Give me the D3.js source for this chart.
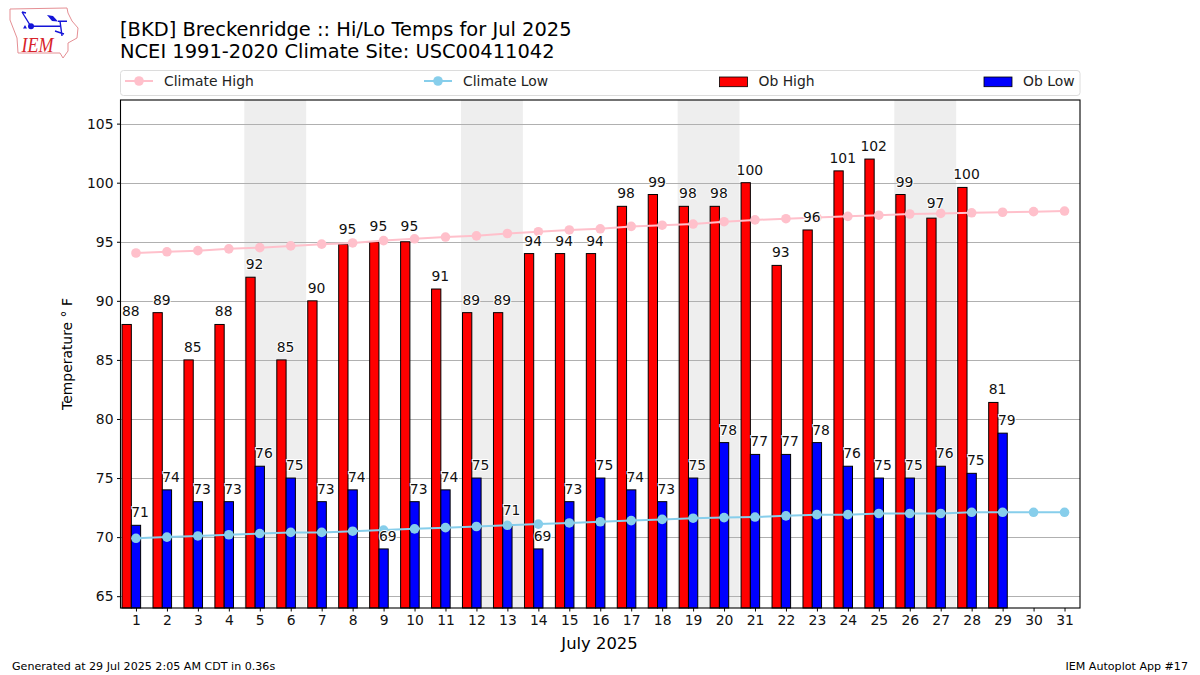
<!DOCTYPE html>
<html>
<head>
<meta charset="utf-8">
<script src="https://cdn.jsdelivr.net/npm/d3@7"></script>
<style>
  html, body { margin: 0; padding: 0; background: #fff; }
  text { font-family: "DejaVu Sans", sans-serif; fill: #000; }
</style>
</head>
<body>
<svg id="chart" width="1200" height="675"></svg>
<script>
var days = d3.range(1, 32);
var obHigh = [88, 89, 85, 88, 92, 85, 90, 94.8, 95, 95, 91, 89, 89, 94, 94, 94, 98, 99, 98, 98, 100, 93, 96, 101, 102, 99, 97, 99.6, 81.4];
var obLow = [71, 74, 73, 73, 76, 75, 73, 74, 69, 73, 74, 75, 71, 69, 73, 75, 74, 73, 75, 78, 77, 77, 78, 76, 75, 75, 76, 75.4, 78.8];
var climateHigh = [94.05, 94.15, 94.25, 94.4, 94.5, 94.65, 94.8, 94.9, 95.1, 95.25, 95.4, 95.5, 95.7, 95.85, 96.0, 96.1, 96.3, 96.4, 96.5, 96.7, 96.85, 96.95, 97.05, 97.15, 97.25, 97.35, 97.4, 97.45, 97.5, 97.55, 97.6];
var climateLow = [69.9, 70.0, 70.1, 70.2, 70.3, 70.4, 70.4, 70.5, 70.6, 70.7, 70.8, 70.9, 71.0, 71.1, 71.2, 71.3, 71.4, 71.5, 71.6, 71.65, 71.7, 71.8, 71.9, 71.9, 72.0, 72.0, 72.0, 72.1, 72.1, 72.1, 72.1];
var weekends = [5, 12, 19, 26];
var yTicks = [65, 70, 75, 80, 85, 90, 95, 100, 105];

var svg = d3.select("#chart");
var plot = { left: 120.5, right: 1080, top: 100, bottom: 608 };
var x = d3.scaleLinear().domain([0.5, 31.5]).range([plot.left, plot.right]);
var y = d3.scaleLinear().domain([64, 107]).range([plot.bottom, plot.top]);
var barW = x(0.3) - x(0);

// logo, rough Iowa outline with the station plot glyph
var logo = svg.append("g");
logo.append("path")
  .attr("d", "M10,9 L67,8 L68,13 L72,21 L78,28 L77,38 L68,43 L68,51 L63,58 L60,53 L18,53 L17,38 L10,20 Z")
  .attr("fill", "none").attr("stroke", "#e58f94").attr("stroke-width", 1);
logo.append("path")
  .attr("d", "M31,26.3 H60 M22,12 L30,25 M22,12 L26,13 M58,21.3 H67 M60,21 L62,36 M55,31 L64,34")
  .attr("fill", "none").attr("stroke", "#1414d8").attr("stroke-width", 1.4);
logo.append("path").attr("d", "M47,15 L53,16 L58,21.5 L52,21 Z").attr("fill", "#1414d8");
logo.append("circle").attr("cx", 31).attr("cy", 26.3).attr("r", 3).attr("fill", "#1414d8");
logo.append("path").attr("d", "M25,25 L27,28.5 H23 Z").attr("fill", "#1414d8");
logo.append("text").attr("x", 21.5).attr("y", 51.5)
  .attr("textLength", 32).attr("lengthAdjust", "spacingAndGlyphs")
  .style("font-family", "'Liberation Serif', serif").style("font-style", "italic")
  .style("font-size", "20.5px").style("fill", "#d8232a").text("IEM");

// titles
svg.append("text").attr("x", 120).attr("y", 36).style("font-size", "19.44px")
  .text("[BKD] Breckenridge :: Hi/Lo Temps for Jul 2025");
svg.append("text").attr("x", 120).attr("y", 58).style("font-size", "19.44px")
  .text("NCEI 1991-2020 Climate Site: USC00411042");

// legend
var legend = svg.append("g");
legend.append("rect").attr("x", 120.5).attr("y", 70.5).attr("width", 959.5).attr("height", 25)
  .attr("rx", 3).attr("fill", "#fff").attr("stroke", "#dcdcdc");

function lineKey(x0, color, label) {
  legend.append("line").attr("x1", x0).attr("x2", x0 + 28).attr("y1", 81).attr("y2", 81)
    .attr("stroke", color).attr("stroke-width", 2);
  legend.append("circle").attr("cx", x0 + 14).attr("cy", 81).attr("r", 4.8).attr("fill", color);
  legend.append("text").attr("x", x0 + 39).attr("y", 86).style("font-size", "13.9px").style("fill", "#222").text(label);
}
function barKey(x0, color, label) {
  legend.append("rect").attr("x", x0).attr("y", 77).attr("width", 28).attr("height", 9.7)
    .attr("fill", color).attr("stroke", "#000").attr("stroke-width", 0.8);
  legend.append("text").attr("x", x0 + 39).attr("y", 86).style("font-size", "13.9px").style("fill", "#222").text(label);
}
lineKey(125, "#ffc0cb", "Climate High");
lineKey(424, "#87ceeb", "Climate Low");
barKey(719.5, "#ff0000", "Ob High");
barKey(984, "#0000ff", "Ob Low");

// weekend shading
svg.append("g").selectAll("rect").data(weekends).join("rect")
  .attr("x", d => x(d - 0.5))
  .attr("y", plot.top)
  .attr("width", d => x(d + 1.5) - x(d - 0.5))
  .attr("height", plot.bottom - plot.top)
  .attr("fill", "#eeeeee");

// grid, snapped to the pixel so it stays light and even
svg.append("g").selectAll("line").data(yTicks).join("line")
  .attr("x1", plot.left).attr("x2", plot.right)
  .attr("y1", d => Math.round(y(d)) + 0.5).attr("y2", d => Math.round(y(d)) + 0.5)
  .attr("stroke", "#b0b0b0").attr("stroke-width", 1.1);

// bars
function drawBars(values, offset, color) {
  svg.append("g").selectAll("rect").data(values).join("rect")
    .attr("x", (d, i) => x(days[i] + offset - 0.15))
    .attr("y", d => y(d))
    .attr("width", barW)
    .attr("height", d => plot.bottom - y(d))
    .attr("fill", color)
    .attr("stroke", "#000")
    .attr("stroke-width", 1);
}
drawBars(obHigh, -0.3, "#ff0000");
drawBars(obLow, 0, "#0000ff");

// climate lines
function drawClimate(values, color) {
  var line = d3.line().x((d, i) => x(days[i])).y(d => y(d));
  svg.append("path").attr("d", line(values)).attr("fill", "none")
    .attr("stroke", color).attr("stroke-width", 2);
  svg.append("g").selectAll("circle").data(values).join("circle")
    .attr("cx", (d, i) => x(days[i]))
    .attr("cy", d => y(d))
    .attr("r", 4.8)
    .attr("fill", color);
}
drawClimate(climateHigh, "#ffc0cb");
drawClimate(climateLow, "#87ceeb");

// value labels with white halo, nudged up when the bar top sits on the climate line
function drawLabels(values, offset, climate) {
  svg.append("g").selectAll("text").data(values).join("text")
    .attr("x", (d, i) => x(days[i] + offset) - 0.5)
    .attr("y", (d, i) => y(d) - (Math.abs(d - climate[i]) < 0.5 ? 10.5 : 8))
    .attr("text-anchor", "middle")
    .style("font-size", "13.9px")
    .style("fill", "#111")
    .style("paint-order", "stroke")
    .style("stroke", "#fff")
    .style("stroke-width", "2px")
    .text(d => d3.format(".0f")(d));
}
drawLabels(obHigh, -0.15, climateHigh);
drawLabels(obLow, 0.15, climateLow);

// axes
var xAxis = d3.axisBottom(x).tickValues(days).tickSize(3.5).tickPadding(3.5).tickFormat(d3.format("d"));
var yAxis = d3.axisLeft(y).tickValues(yTicks).tickSize(3.5).tickPadding(3.5);
var gx = svg.append("g").attr("transform", "translate(0," + plot.bottom + ")").call(xAxis);
var gy = svg.append("g").attr("transform", "translate(" + plot.left + ",0)").call(yAxis);
[gx, gy].forEach(g => {
  g.selectAll("text").style("font-size", "13.9px").style("font-family", "'DejaVu Sans'").style("fill", "#111");
  g.select(".domain").remove();
});

svg.append("rect").attr("x", plot.left).attr("y", plot.top)
  .attr("width", plot.right - plot.left).attr("height", plot.bottom - plot.top)
  .attr("fill", "none").attr("stroke", "#000").attr("stroke-width", 1.1);

// axis titles and footer
svg.append("text").attr("x", 599.5).attr("y", 649).attr("text-anchor", "middle")
  .style("font-size", "16.4px").text("July 2025");
svg.append("text").attr("transform", "translate(72,354) rotate(-90)").attr("text-anchor", "middle")
  .style("font-size", "13.9px").text("Temperature \u00b0 F");
svg.append("text").attr("x", 12).attr("y", 670).style("font-size", "11.1px")
  .text("Generated at 29 Jul 2025 2:05 AM CDT in 0.36s");
svg.append("text").attr("x", 1188).attr("y", 670).attr("text-anchor", "end").style("font-size", "11.1px")
  .text("IEM Autoplot App #17");
</script>
</body>
</html>
